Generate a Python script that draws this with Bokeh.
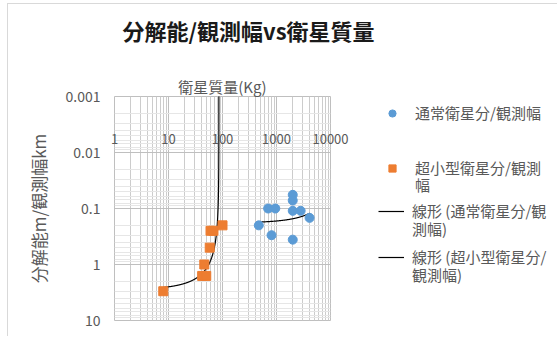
import numpy as np
from bokeh.plotting import figure
from bokeh.layouts import row
from bokeh.models import Range1d, Legend, LegendItem, FixedTicker, Title
from bokeh.embed import file_html
from bokeh.resources import INLINE

# --- data ---
normal_mass = [470, 700, 950, 810, 2000, 2000, 2000, 2800, 2000, 4100]
normal_res = [0.2, 0.1, 0.1, 0.3, 0.057, 0.072, 0.11, 0.11, 0.36, 0.147]
micro_mass = [8, 46, 42, 50, 58, 60, 68, 100]
micro_res = [3.0, 1.0, 1.6, 1.6, 0.5, 0.25, 0.25, 0.2]

x_ticks = [1, 10, 100, 1000, 10000]
x_tick_labels = ["1", "10", "100", "1000", "10000"]
y_ticks = [0.001, 0.01, 0.1, 1, 10]
y_tick_labels = ["0.001", "0.01", "0.1", "1", "10"]

# legend names, split where the reference wraps them
name_normal = ["通常衛星分/観測幅"]
name_micro = ["超小型衛星分/観測", "幅"]
name_trend_normal = ["線形 (通常衛星分/観", "測幅)"]
name_trend_micro = ["線形 (超小型衛星分/", "観測幅)"]

JP = "Noto Sans CJK JP"
GREY = "#595959"
BLUE = "#5B9BD5"
ORANGE = "#ED7D31"

p = figure(width=370, height=332, x_axis_type="log", y_axis_type="log",
           x_range=Range1d(1, 10000), y_range=Range1d(10, 0.001),
           x_axis_location="above", output_backend="svg", toolbar_location=None,
           min_border_left=106, min_border_right=48, min_border_top=92, min_border_bottom=16)

p.title.text = "分解能/観測幅vs衛星質量"
p.title.text_font = JP
p.title.text_font_size = "22px"
p.title.text_font_style = "bold"
p.title.text_color = "#1a1a1a"
p.title.align = "left"
p.title.offset = 8
p.title.standoff = 0

minor_x = [m * 10 ** k for k in range(0, 4) for m in range(2, 10)]
minor_y = [m * 10.0 ** k for k in range(-3, 1) for m in range(2, 10)]
p.xaxis.ticker = FixedTicker(ticks=x_ticks, minor_ticks=minor_x)
p.yaxis.ticker = FixedTicker(ticks=y_ticks, minor_ticks=minor_y)
p.xaxis.major_label_overrides = {t: s for t, s in zip(x_ticks, x_tick_labels)}
p.yaxis.major_label_overrides = {t: s for t, s in zip(y_ticks, y_tick_labels)}

for ax in (p.xaxis[0], p.yaxis[0]):
    ax.axis_line_color = None
    ax.major_tick_out = 0
    ax.major_tick_in = 0
    ax.minor_tick_out = 0
    ax.minor_tick_in = 0
    ax.major_label_text_font = JP
    ax.major_label_text_color = GREY
    ax.axis_label_text_font = JP
    ax.axis_label_text_font_style = "normal"
    ax.axis_label_text_color = GREY

p.xaxis.axis_label = "衛星質量(Kg)"
p.xaxis.axis_label_text_font_size = "15px"
p.xaxis.major_label_text_font_size = "13px"
p.xaxis.major_label_standoff = -47
p.xaxis.axis_label_standoff = 34

p.yaxis.axis_label = "分解能m/観測幅km"
p.yaxis.axis_label_text_font_size = "17px"
p.yaxis.major_label_text_font_size = "14px"
p.yaxis.major_label_standoff = 14
p.yaxis.axis_label_standoff = 12

# blank gap between the axis title and the chart title
gap = Title(text=" ", text_font_size="1px", standoff=24)
p.add_layout(gap, "above")

p.xgrid.grid_line_color = "#bfbfbf"
p.ygrid.grid_line_color = "#bfbfbf"
p.xgrid.minor_grid_line_color = "#cccccc"
p.ygrid.minor_grid_line_color = "#e6e6e6"
p.outline_line_color = "#bfbfbf"

# trendlines (linear fit, as in the spreadsheet)
a_n, b_n = np.polyfit(normal_mass, normal_res, 1)
xs_n = np.linspace(min(normal_mass), max(normal_mass), 200)
ys_n = a_n * xs_n + b_n

a_m, b_m = np.polyfit(micro_mass, micro_res, 1)
root = -b_m / a_m
xs_m = np.concatenate([np.linspace(min(micro_mass), root, 600)[:-1], root - np.logspace(0, -7, 300)])
xs_m = np.sort(xs_m[xs_m >= min(micro_mass)])
ys_m = a_m * xs_m + b_m
keep = ys_m > 0
xs_m, ys_m = xs_m[keep], ys_m[keep]

p.line(xs_n, ys_n, line_color="black", line_width=1.2)
p.line(xs_m, ys_m, line_color="black", line_width=1.2)
p.scatter(normal_mass, normal_res, marker="circle", size=9, fill_color=BLUE, line_color=BLUE)
p.scatter(micro_mass, micro_res, marker="square", size=9, fill_color=ORANGE, line_color=ORANGE)

# legend panel (separate canvas; its own ranges keep these copies out of view)
p2 = figure(width=179, height=332, x_range=Range1d(-1, 0), y_range=Range1d(-1, 0),
            x_axis_location=None, y_axis_location=None, output_backend="svg",
            toolbar_location=None, min_border=0)
p2.grid.visible = False
p2.outline_line_color = None

lg_n = p2.scatter(normal_mass, normal_res, marker="circle", size=9, fill_color=BLUE, line_color=BLUE)
lg_m = p2.scatter(micro_mass, micro_res, marker="square", size=9, fill_color=ORANGE, line_color=ORANGE)
lg_tn = p2.line(xs_n, ys_n, line_color="black", line_width=1.2)
lg_tm = p2.line(xs_m, ys_m, line_color="black", line_width=1.2)
lg_none = p2.line(xs_n, ys_n, line_alpha=0)


def make_legend(label, rend, loc, gw, standoff):
    lg = Legend(items=[LegendItem(label=label, renderers=[rend])], location=loc,
                padding=0, margin=0, border_line_color=None, background_fill_alpha=0,
                glyph_width=gw, glyph_height=18, label_standoff=standoff, label_height=18,
                label_text_font=JP, label_text_font_size="15px", label_text_color=GREY,
                spacing=0)
    p2.add_layout(lg, "center")


make_legend(name_normal[0], lg_n, (4, 197), 20, 13)
make_legend(name_micro[0], lg_m, (4, 142), 20, 13)
make_legend(name_micro[1], lg_none, (4, 125), 20, 13)
make_legend(name_trend_normal[0], lg_tn, (0, 99), 26, 8)
make_legend(name_trend_normal[1], lg_none, (0, 81), 26, 8)
make_legend(name_trend_micro[0], lg_tm, (0, 53), 26, 8)
make_legend(name_trend_micro[1], lg_none, (0, 35), 26, 8)

layout = row(p, p2, styles={"margin-left": "7px", "margin-top": "3px",
                            "border-top": "1px solid #d9d9d9", "border-left": "1px solid #d9d9d9"})

open("out.html", "w").write(file_html(layout, INLINE))
